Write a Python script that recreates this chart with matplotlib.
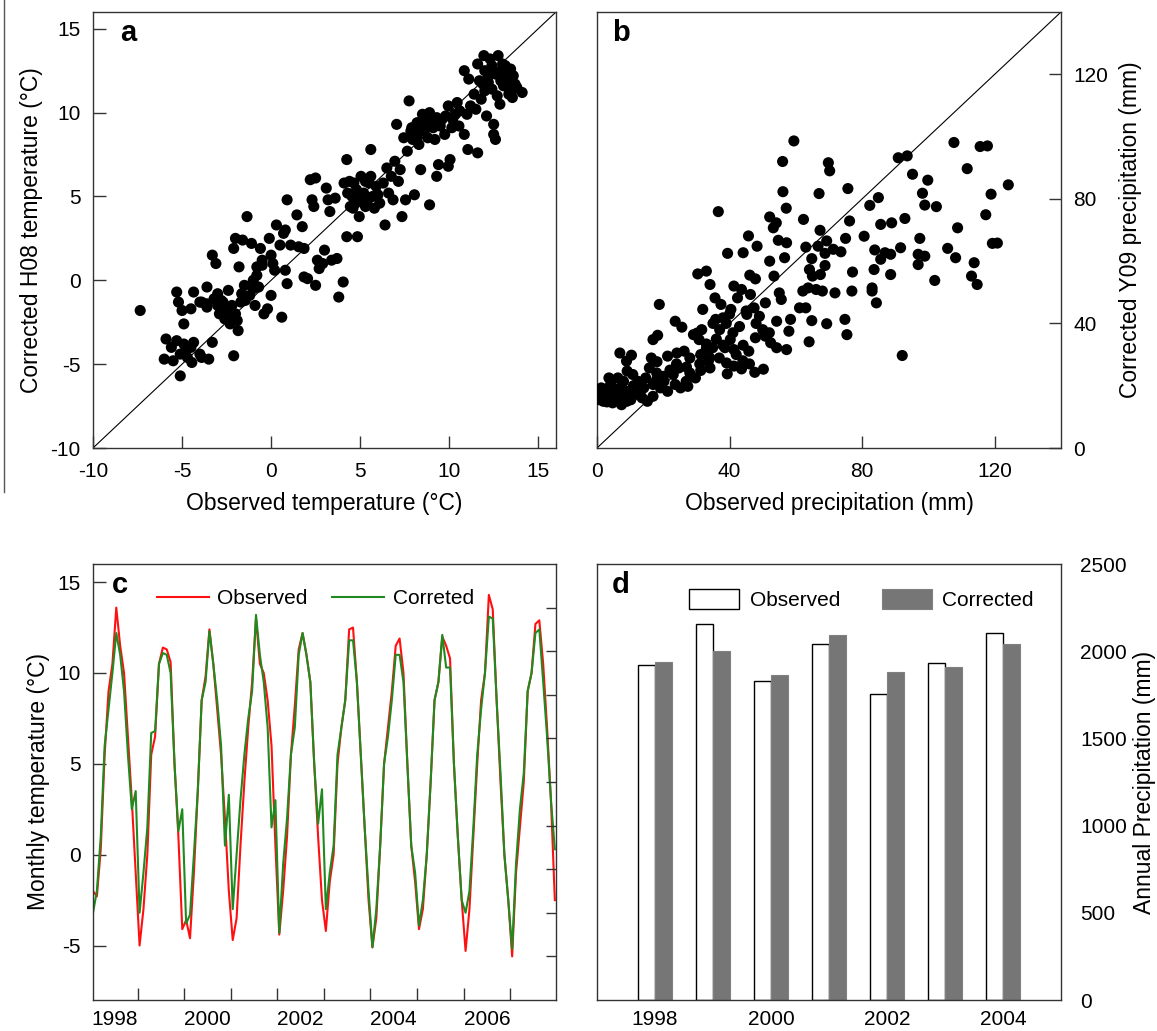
import numpy as np
import matplotlib
matplotlib.use("Agg")
import matplotlib.pyplot as plt
from matplotlib.lines import Line2D

plt.rcParams['font.family'] = ['Liberation Sans', 'DejaVu Sans']
plt.rcParams['axes.unicode_minus'] = False

# ---- panel a: observed vs corrected H08 temperature (deg C) ----
temp_pts = [
    (-7.35, -1.8), (-6.0, -4.7), (-5.9, -3.5), (-5.6, -4.0), (-5.5, -4.8), (-5.3, -3.6),
    (-5.1, -4.4), (-5.1, -5.7), (-4.9, -3.8), (-4.8, -4.2), (-4.7, -4.6), (-4.5, -4.0),
    (-4.45, -4.9), (-4.35, -3.7), (-4.0, -4.4), (-3.9, -4.6), (-3.5, -4.7), (-3.3, -3.7),
    (-4.9, -2.6), (-5.3, -0.7), (-5.2, -1.3), (-5.0, -1.8), (-4.35, -0.7), (-4.5, -1.7),
    (-4.0, -1.3), (-3.6, -0.4), (-3.3, 1.5), (-3.1, 1.0), (-3.6, -1.4), (-3.0, -0.8),
    (-2.8, -1.2), (-2.6, -1.6), (-2.4, -0.6), (-2.8, -1.8), (-2.3, -2.2), (-2.0, -2.0),
    (-2.1, -4.5), (-1.85, -3.0), (-2.1, 1.9), (-2.0, 2.5), (-1.8, 0.8), (-1.6, 2.4),
    (-1.35, 3.8), (-1.1, 2.2), (-1.65, -0.8), (-1.45, -1.2), (-1.0, 0.0), (-0.9, -1.5),
    (-0.7, -0.4), (-0.6, 1.9), (-0.5, 1.2), (-0.8, 0.8), (-0.4, -2.0), (-0.2, -1.7),
    (-0.1, 2.5), (0.0, -0.9), (0.0, 1.5), (0.1, 1.0), (0.2, 0.6), (0.3, 3.3),
    (0.5, 2.1), (0.6, -2.2), (0.7, 2.8), (0.8, 3.0), (0.9, 4.8), (0.8, 0.6),
    (0.9, -0.2), (1.1, 2.1), (1.45, 3.9), (1.55, 2.0), (1.75, 3.2), (1.85, 1.9),
    (1.85, 0.2), (2.05, 0.1), (2.5, -0.3), (2.2, 6.0), (2.5, 6.1), (2.3, 4.8),
    (2.4, 4.4), (2.6, 1.2), (2.7, 0.7), (2.9, 1.0), (3.0, 1.8), (3.1, 5.5),
    (3.2, 4.8), (3.3, 4.1), (3.4, 1.2), (3.6, 4.9), (3.7, 1.3), (3.8, -1.0),
    (4.05, -0.1), (4.1, 5.8), (4.25, 7.2), (4.25, 2.6), (4.45, 4.4), (4.55, 5.0),
    (4.65, 5.8), (4.75, 4.6), (4.85, 2.6), (4.95, 3.8), (5.05, 6.2), (5.2, 5.2),
    (5.3, 4.4), (5.5, 5.8), (5.6, 7.8), (5.7, 5.0), (5.9, 5.6), (6.1, 4.6),
    (6.4, 3.3), (6.5, 6.7), (6.6, 5.2), (6.75, 6.2), (6.85, 4.8), (6.95, 7.1),
    (7.05, 9.3), (7.15, 5.9), (7.25, 6.6), (7.35, 3.8), (7.45, 8.5), (7.55, 4.8),
    (7.65, 7.7), (7.75, 10.7), (7.85, 8.9), (7.95, 8.4), (8.05, 5.1), (8.2, 9.4),
    (8.3, 8.1), (8.4, 6.6), (8.5, 9.9), (8.6, 8.9), (8.7, 9.6), (8.8, 8.5),
    (8.9, 10.0), (8.9, 4.5), (9.1, 9.1), (9.2, 8.4), (9.3, 6.2), (9.4, 6.9),
    (9.6, 9.6), (9.75, 8.7), (9.95, 6.8), (10.05, 7.2), (9.95, 10.4), (10.15, 9.1),
    (10.35, 9.9), (10.45, 10.6), (10.55, 9.2), (10.85, 8.7), (11.0, 9.9), (11.05, 7.8),
    (11.2, 10.4), (10.85, 12.5), (11.1, 12.0), (11.4, 11.1), (11.5, 10.2), (11.6, 7.6),
    (11.6, 12.9), (11.7, 11.9), (11.8, 10.8), (11.95, 13.4), (12.0, 12.5), (12.1, 9.8),
    (12.2, 12.2), (12.3, 13.2), (12.4, 11.4), (12.5, 9.3), (12.5, 8.7), (12.6, 8.4),
    (12.75, 13.4), (12.85, 12.4), (12.85, 10.5), (13.05, 11.6), (13.15, 12.8), (13.25, 12.0),
    (13.35, 11.1), (13.45, 12.6), (13.55, 10.9), (13.6, 12.2), (13.7, 11.7), (13.8, 11.5),
    (14.1, 11.2),
    (-3.0, -1.5), (-2.7, -1.3), (-2.5, -1.9), (-2.2, -1.5), (-2.6, -2.3), (-3.2, -1.1),
    (-3.6, -1.6), (-3.9, -1.3), (-2.9, -2.0), (-2.3, -2.6), (-1.9, -2.4), (-1.7, -1.3),
    (-1.2, -0.9), (-1.5, -0.3), (-1.0, -0.5), (-0.8, 0.3), (-0.5, 0.9),
    (4.3, 5.2), (4.8, 5.4), (5.0, 4.9), (5.3, 5.9), (5.6, 6.2), (4.6, 4.3),
    (5.8, 4.3), (6.3, 5.8), (6.0, 5.1), (5.4, 4.7), (4.4, 5.9),
    (8.0, 8.8), (8.3, 9.0), (8.6, 9.3), (9.0, 9.5), (9.3, 9.7), (8.8, 9.9),
    (9.5, 9.2), (9.8, 9.8), (10.2, 9.6), (10.6, 10.1), (7.9, 9.1), (8.2, 8.5),
    (12.2, 11.8), (12.6, 12.3), (12.9, 11.9), (13.2, 12.4), (13.4, 11.6), (12.4, 12.8),
    (11.9, 11.7), (13.0, 12.9), (12.7, 11.0), (13.6, 11.4), (12.0, 11.3),
]
obs_temp = [p[0] for p in temp_pts]
cor_temp = [p[1] for p in temp_pts]

# ---- panel b: observed vs corrected Y09 precipitation (mm) ----
prec_pts = [
    (59.4, 98.6), (56.0, 92.0), (56.1, 82.3), (57.1, 77.0), (36.6, 75.9), (107.7, 98.1),
    (115.6, 96.8), (117.8, 97.0), (90.9, 93.2), (93.6, 93.8), (69.8, 91.6), (70.2, 89.0),
    (95.2, 87.9), (111.7, 89.7), (99.8, 86.0), (124.1, 84.5), (75.7, 83.3), (67.0, 81.7),
    (98.2, 81.8), (118.9, 81.5), (84.9, 80.4), (82.3, 77.9), (98.9, 78.0), (102.4, 77.5),
    (117.3, 74.9), (52.1, 74.2), (62.3, 73.4), (76.2, 72.9), (92.9, 73.7), (88.9, 72.3),
    (85.6, 71.8), (53.2, 70.7), (54.1, 72.3), (108.8, 70.7), (67.3, 69.9), (45.7, 68.1),
    (80.6, 68.0), (75.0, 67.3), (97.4, 67.3), (54.7, 66.7), (57.2, 65.9), (119.3, 65.7),
    (120.8, 65.8), (48.3, 64.8), (63.0, 64.5), (66.7, 64.8), (69.3, 66.5), (71.3, 63.8),
    (73.6, 63.0), (91.6, 64.3), (105.8, 64.1), (39.4, 62.5), (44.1, 62.7), (56.6, 61.1),
    (64.8, 60.8), (68.8, 62.5), (83.8, 63.6), (86.9, 62.7), (88.6, 62.2), (96.9, 62.2),
    (98.9, 61.6), (108.2, 61.1), (52.1, 60.0), (68.8, 58.6), (113.8, 59.5), (96.9, 58.9),
    (85.6, 60.6), (30.4, 55.9), (33.0, 56.8), (34.1, 52.5), (46.1, 55.5), (47.8, 54.3),
    (53.4, 55.2), (64.1, 57.3), (65.0, 55.2), (67.4, 55.7), (77.1, 56.5), (83.6, 57.3),
    (88.6, 55.7), (101.9, 53.8), (113.0, 55.2), (114.7, 52.5), (41.3, 52.0), (43.6, 50.9),
    (46.3, 49.3), (55.0, 49.8), (62.1, 50.4), (63.7, 51.4), (66.1, 50.9), (68.0, 50.4),
    (71.8, 49.8), (76.9, 50.4), (83.0, 51.4), (83.0, 50.4), (84.3, 46.6), (35.6, 48.2),
    (37.4, 46.1), (50.8, 46.6), (55.6, 47.7), (61.1, 45.0), (63.0, 45.0), (18.8, 46.1),
    (31.9, 44.5), (40.4, 44.5), (42.4, 48.2), (45.2, 42.9), (47.4, 45.0), (49.0, 42.3),
    (54.2, 40.7), (58.4, 41.3), (64.8, 40.9), (69.3, 39.9), (74.8, 41.3), (23.6, 40.7),
    (25.6, 38.8), (35.8, 41.3), (38.0, 41.8), (57.9, 37.5), (75.4, 36.4), (64.0, 34.1),
    (57.2, 31.6), (16.9, 34.8), (18.3, 36.2), (29.1, 36.4), (30.2, 36.9), (31.6, 38.0),
    (30.8, 34.8), (33.0, 33.4), (34.9, 32.2), (38.6, 32.2), (40.2, 34.8), (41.3, 31.6),
    (44.1, 33.0), (45.8, 31.1), (47.8, 35.4), (50.8, 35.9), (52.4, 33.8), (54.2, 32.2),
    (92.1, 29.7), (6.9, 30.5), (8.9, 27.9), (10.4, 29.8), (16.4, 28.9), (18.1, 27.7),
    (21.3, 29.5), (24.1, 30.5), (26.3, 31.1), (28.0, 28.9), (31.3, 30.0), (33.6, 27.9),
    (36.9, 28.9), (39.1, 27.3), (41.3, 26.3), (43.6, 25.4), (39.3, 23.8), (47.6, 24.3),
    (50.2, 25.3), (28.0, 24.1), (29.7, 22.5), (26.9, 21.4), (31.3, 24.9), (34.1, 25.7),
    (21.3, 18.2), (20.2, 21.4), (23.0, 23.6), (24.7, 25.7), (18.0, 24.1), (15.8, 25.7),
    (14.7, 22.5), (16.9, 20.4), (14.1, 19.3), (12.4, 21.4), (10.8, 23.6), (9.1, 24.7),
    (8.0, 21.4), (11.3, 17.1), (9.1, 18.2), (6.9, 19.3), (5.2, 17.7), (4.1, 20.4),
    (3.6, 22.5), (2.4, 18.8), (1.3, 17.1), (0.8, 15.5), (1.3, 19.3), (3.0, 16.1),
    (5.8, 15.5), (8.0, 16.1), (10.2, 15.5), (16.9, 16.6), (13.6, 16.1), (6.3, 22.5),
    (23.6, 20.4), (25.2, 19.3), (27.4, 19.8), (19.1, 19.3), (15.2, 15.0), (1.9, 15.0),
    (0.2, 16.6), (4.7, 14.5), (7.4, 13.9), (0.3, 18.2),
    (35, 40), (37, 38), (39, 40), (41, 37), (43, 39), (36, 35), (38, 33), (42, 30),
    (44, 28), (46, 27), (33, 32), (34, 29), (40, 43), (45, 44), (48, 40), (50, 38),
    (52, 37), (31, 27), (27, 26), (24, 27), (22, 25), (12, 19), (11, 20), (7, 17),
    (3, 14.8), (2, 16.5), (9, 15), (13, 18), (18, 22), (20, 23),
]
obs_prec = [p[0] for p in prec_pts]
cor_prec = [p[1] for p in prec_pts]

# ---- panel c: monthly temperature, Jan 1998 - Dec 2007 ----
month_obs = [
    -2.0, -2.3, 0.3, 5.5, 9.0, 10.5, 13.6, 11.5, 10.0, 6.5, 3.0, -1.0,
    -5.0, -3.0, 0.0, 5.5, 6.5, 10.5, 11.4, 11.3, 10.6, 5.0, 1.0, -4.1,
    -3.6, -4.6, -1.0, 3.5, 8.5, 9.8, 12.4, 10.5, 8.0, 5.5, 2.0, -2.0,
    -4.7, -3.5, 0.5, 4.0, 7.0, 9.5, 13.0, 10.5, 10.0, 8.5, 6.0, 0.5,
    -4.4, -2.0, 1.0, 5.5, 8.2, 11.3, 12.2, 11.0, 9.5, 5.0, 1.0, -2.5,
    -4.2, -1.5, 0.0, 5.0, 7.0, 8.5, 12.4, 12.5, 9.5, 5.5, 1.5, -2.5,
    -5.1, -3.5, 0.5, 5.0, 7.0, 9.0, 11.5, 11.9, 10.0, 5.0, 0.5, -1.5,
    -4.1, -3.0, 0.0, 4.0, 8.5, 9.5, 12.0, 11.5, 10.8, 5.0, 1.0, -2.5,
    -5.3, -3.0, 1.0, 5.0, 8.5, 10.0, 14.3, 13.5, 8.5, 4.0, 0.0, -2.5,
    -5.6, -1.0, 1.5, 4.0, 9.0, 10.0, 12.7, 12.9, 10.5, 7.0, 3.0, -2.5,
]
month_cor = [
    -3.2, -2.0, 1.0, 6.0, 8.0, 10.0, 12.2, 11.0, 9.0, 5.5, 2.5, 3.5,
    -3.2, -1.0, 1.5, 6.7, 6.8, 10.5, 11.1, 11.0, 10.0, 5.0, 1.3, 2.5,
    -3.8, -3.3, 0.0, 3.5, 8.5, 9.5, 12.3, 10.5, 8.5, 6.0, 0.5, 3.3,
    -3.0, 0.0, 3.0, 5.5, 7.5, 9.0, 13.2, 11.0, 9.5, 7.0, 1.5, 3.0,
    -4.3, -0.5, 2.0, 5.5, 7.0, 11.0, 12.2, 11.0, 9.5, 5.0, 1.7, 3.6,
    -3.0, -1.0, 0.5, 5.5, 7.0, 8.5, 11.8, 11.8, 9.5, 5.5, 1.5, -2.0,
    -5.1, -3.0, 0.5, 5.0, 6.5, 8.5, 11.0, 11.0, 9.5, 5.0, 0.5, -1.0,
    -3.9, -2.5, 0.0, 4.0, 8.5, 9.5, 12.1, 10.3, 10.3, 5.0, 1.0, -2.5,
    -3.2, -2.0, 1.5, 5.5, 8.0, 10.0, 13.1, 13.0, 8.5, 4.5, 0.0, -2.5,
    -5.2, -0.5, 2.5, 4.5, 9.0, 10.0, 12.2, 12.4, 9.5, 6.5, 3.0, 0.3,
]
c_year_labels = ['1998', '2000', '2002', '2004', '2006']

# ---- panel d: annual precipitation (mm) ----
years = [1998, 1999, 2000, 2001, 2002, 2003, 2004]
annual_obs = [1919, 2158, 1831, 2039, 1757, 1930, 2106]
annual_cor = [1936, 2001, 1862, 2091, 1879, 1908, 2041]

W, H = 1157, 1031
fig = plt.figure(figsize=(W / 100, H / 100), dpi=100)

def box(l, t, r, b):
    return [l / W, (H - b) / H, (r - l) / W, (b - t) / H]

spine_c = '#333333'
tick_fs = 15
lab_fs = 16.5

def style(ax):
    for s in ax.spines.values():
        s.set_color(spine_c)
        s.set_linewidth(1.0)
    ax.tick_params(direction='in', length=9, width=1.0, color=spine_c,
                   labelsize=tick_fs, pad=9)

# a
ax = fig.add_axes(box(93, 12, 556, 448))
style(ax)
ax.scatter(obs_temp, cor_temp, s=64, color='black', edgecolors='none', zorder=3)
ax.axline((0, 0), slope=1, color='black', lw=0.8)
ax.set_xlim(-10, 16)
ax.set_ylim(-10, 16)
ax.set_xticks([-10, -5, 0, 5, 10, 15])
ax.set_yticks([-10, -5, 0, 5, 10, 15])
ax.tick_params(axis='x', pad=10)
ax.set_xlabel('Observed temperature (°C)', fontsize=lab_fs, labelpad=8)
ax.set_ylabel('Corrected H08 temperature (°C)', fontsize=lab_fs, labelpad=5)
ax.text(0.058, 0.985, 'a', transform=ax.transAxes, fontsize=21,
        fontweight='bold', va='top', ha='left')

# b
ax = fig.add_axes(box(597, 12, 1061, 448))
style(ax)
ax.scatter(obs_prec, cor_prec, s=64, color='black', edgecolors='none', zorder=3)
ax.axline((0, 0), slope=1, color='black', lw=0.8)
ax.set_xlim(0, 140)
ax.set_ylim(0, 140)
ax.set_xticks([0, 40, 80, 120])
ax.set_yticks([0, 40, 80, 120])
ax.yaxis.tick_right()
ax.yaxis.set_label_position('right')
ax.tick_params(axis='y', left=False, right=True, labelleft=False, labelright=True)
ax.tick_params(axis='x', pad=10)
ax.set_xlabel('Observed precipitation (mm)', fontsize=lab_fs, labelpad=8)
ax.set_ylabel('Corrected Y09 precipitation (mm)', fontsize=lab_fs, labelpad=8)
ax.text(0.032, 0.985, 'b', transform=ax.transAxes, fontsize=21,
        fontweight='bold', va='top', ha='left')

# c
ax = fig.add_axes(box(93, 564, 556, 1000))
style(ax)
m = np.arange(len(month_obs))
ax.plot(m, month_obs, color='#ff1010', lw=1.5, label='Observed')
ax.plot(m, month_cor, color='#1f8a1f', lw=1.5, label='Correted')
ax.set_xlim(0, 119.3)
ax.set_ylim(-8, 16)
ax.set_yticks([-5, 0, 5, 10, 15])
ax.set_xticks(np.arange(11.5, 119, 12))
ax.set_xticklabels([])
ax.set_xticks(np.arange(5.5, 119, 24), labels=c_year_labels, minor=True)
ax.tick_params(axis='x', which='minor', length=0, labelsize=tick_fs, pad=7)
ax.set_ylabel('Monthly temperature (°C)', fontsize=lab_fs, labelpad=5)
ax.legend(loc='upper center', bbox_to_anchor=(0.48, 0.985), ncol=2, frameon=False,
          fontsize=15, handlelength=2.5, columnspacing=1.2, handletextpad=0.4)
ax.text(0.041, 0.985, 'c', transform=ax.transAxes, fontsize=21,
        fontweight='bold', va='top', ha='left')
axr = ax.twinx()
axr.set_ylim(0, 10)
axr.set_yticks(range(1, 10))
axr.tick_params(direction='in', length=7, width=1.0, color=spine_c, labelright=False)
for s in axr.spines.values():
    s.set_visible(False)

# d
ax = fig.add_axes(box(597, 564, 1061, 1000))
style(ax)
yrs = np.array(years)
bw = 0.285
ax.bar(yrs - bw / 2, annual_obs, width=bw, color='white', edgecolor='black',
       lw=1.0, label='Observed', zorder=2)
ax.bar(yrs + bw / 2, annual_cor, width=bw, color='#767676', edgecolor='#808080',
       lw=0.8, label='Corrected', zorder=2)
ax.set_xlim(1997, 2005)
ax.set_ylim(0, 2500)
ax.set_xticks([1998, 2000, 2002, 2004])
ax.tick_params(axis='x', pad=7)
ax.set_yticks([0, 500, 1000, 1500, 2000, 2500])
ax.yaxis.tick_right()
ax.yaxis.set_label_position('right')
ax.tick_params(axis='y', left=False, right=False, labelright=True, pad=14)
ax.set_ylabel('Annual Precipitation (mm)', fontsize=lab_fs, labelpad=4)
ax.legend(loc='upper center', bbox_to_anchor=(0.57, 0.985), ncol=2, frameon=False,
          fontsize=15, handlelength=2.4, handleheight=1.1, columnspacing=2.0,
          handletextpad=0.5)
ax.text(0.032, 0.985, 'd', transform=ax.transAxes, fontsize=21,
        fontweight='bold', va='top', ha='left')

# thin border line at the far left of the top row
fig.add_artist(Line2D([3.5 / W, 3.5 / W], [(H - 492) / H, 1.0], color='#555555', lw=1.0))

fig.savefig('out.png', dpi=100)
